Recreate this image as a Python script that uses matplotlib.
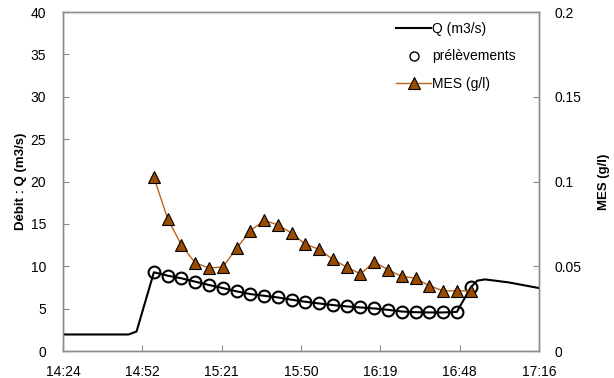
import matplotlib
matplotlib.use("Agg")
import matplotlib.pyplot as plt
from matplotlib.lines import Line2D


def hm(s):
    h, m = s.split(":")
    return int(h) * 60 + float(m)


# discharge hydrograph (m3/s)
q_times = ["14:24", "14:47.8", "14:50.7", "14:57", "15:02", "15:07", "15:12", "15:17",
           "15:22", "15:27", "15:32", "15:37", "15:42", "15:47", "15:52", "15:57",
           "16:02", "16:07", "16:12", "16:17", "16:22", "16:27", "16:32", "16:37",
           "16:42", "16:47", "16:52", "16:54.4", "16:57.2", "17:05.7", "17:16.8"]
q_values = [1.95, 1.95, 2.3, 9.29, 8.89, 8.58, 8.18, 7.79, 7.43, 7.04, 6.72, 6.52,
            6.32, 6.05, 5.81, 5.61, 5.42, 5.26, 5.14, 5.02, 4.86, 4.66, 4.58, 4.55,
            4.55, 4.62, 7.5, 8.3, 8.45, 8.1, 7.43]

# samples (prélèvements) on the hydrograph
sample_times = ["14:57", "15:02", "15:07", "15:12", "15:17", "15:22", "15:27", "15:32",
                "15:37", "15:42", "15:47", "15:52", "15:57", "16:02", "16:07", "16:12",
                "16:17", "16:22", "16:27", "16:32", "16:37", "16:42", "16:47", "16:52"]
sample_q = [9.29, 8.89, 8.58, 8.18, 7.79, 7.43, 7.04, 6.72, 6.52, 6.32, 6.05, 5.81,
            5.61, 5.42, 5.26, 5.14, 5.02, 4.86, 4.66, 4.58, 4.55, 4.55, 4.62, 7.5]

# suspended matter (g/l)
mes_values = [0.1025, 0.078, 0.0625, 0.052, 0.049, 0.0495, 0.0605, 0.071, 0.077,
              0.0745, 0.0695, 0.063, 0.060, 0.054, 0.0495, 0.0455, 0.0525, 0.048,
              0.044, 0.043, 0.0385, 0.0355, 0.0355, 0.0355]

x_tick_labels = ["14:24", "14:52", "15:21", "15:50", "16:19", "16:48", "17:16"]
x_ticks = [864 + 28.8 * i for i in range(len(x_tick_labels))]

plt.rcParams["font.family"] = ["Liberation Sans", "DejaVu Sans"]
plt.rcParams["font.size"] = 10

GRAY = "#8C8C8C"

fig = plt.figure(figsize=(6.14, 3.78), dpi=100)
ax = fig.add_axes([0.1026, 0.0714, 0.7752, 0.8968])
ax2 = ax.twinx()

qt = [hm(t) for t in q_times]
st = [hm(t) for t in sample_times]

ax.plot(qt, q_values, color="black", lw=1.5, zorder=3)
ax.plot(st, sample_q, ls="none", marker="o", ms=8.5, mfc="none", mec="black",
        mew=1.5, zorder=4)
ax2.plot(st, mes_values, color="#B8651E", lw=1.0, marker="^", ms=9,
         mfc="#994C00", mec="black", mew=0.8, zorder=5)

ax.set_xlim(864, 1036.8)
ax.set_ylim(0, 40)
ax2.set_ylim(0, 0.2)
ax.set_xticks(x_ticks)
ax.set_xticklabels(x_tick_labels)
ax.set_yticks(range(0, 41, 5))
ax2.set_yticks([0, 0.05, 0.1, 0.15, 0.2])
ax2.set_yticklabels(["0", "0.05", "0.1", "0.15", "0.2"])

for a in (ax, ax2):
    for sp in a.spines.values():
        sp.set_color(GRAY)
        sp.set_linewidth(1.0)
    a.tick_params(direction="in", length=4, color=GRAY, labelcolor="black")
ax.tick_params(axis="y", pad=12)
ax.tick_params(axis="x", pad=10)
ax2.tick_params(axis="y", pad=11)

ax.set_ylabel("Débit : Q (m3/s)", fontsize=9.5, fontweight="bold", labelpad=3)
ax2.set_ylabel("MES (g/l)", fontsize=9.5, fontweight="bold", labelpad=12)

handles = [
    Line2D([], [], color="black", lw=1.5),
    Line2D([], [], ls="none", marker="o", ms=6.5, mfc="none", mec="black", mew=1.0),
    Line2D([], [], color="#B8651E", lw=1.0, marker="^", ms=9, mfc="#994C00",
           mec="black", mew=0.8),
]
ax2.legend(handles, ["Q (m3/s)", "prélèvements", "MES (g/l)"], loc="upper left",
           bbox_to_anchor=(0.70, 0.97), frameon=False, borderpad=0,
           borderaxespad=0, handlelength=2.5, handletextpad=0.1,
           labelspacing=0.95, fontsize=10)

fig.savefig("out.png", dpi=100)
